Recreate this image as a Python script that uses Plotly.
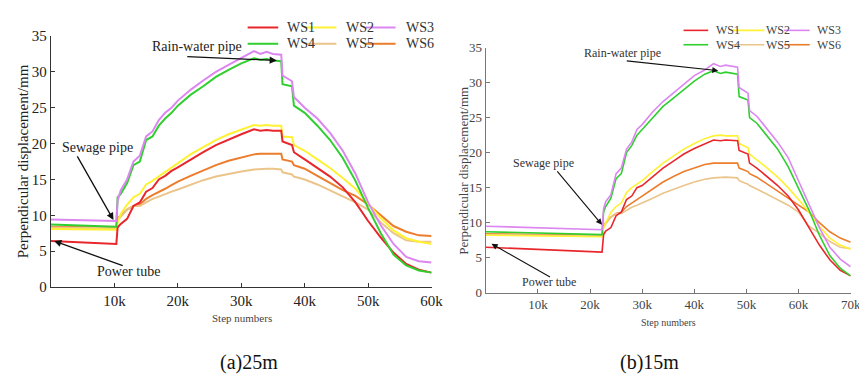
import plotly.graph_objects as go

W, H = 867, 376

# ---------------- data: (a) 25m ----------------
steps_a = [0, 10300, 10500, 11000, 12000, 13000, 14000, 15000, 16000, 17000, 18000, 19000, 20000,
           22000, 24000, 26000, 28000, 30000, 32000, 33000, 34000, 35000, 36300, 36500, 38000, 38300,
           40000, 42000, 44000, 46000, 48000, 50000, 52000, 54000, 56000, 58000, 60000]
a_ws1 = [6.4, 6.0, 8.3, 8.8, 9.5, 11.3, 11.8, 13.3, 13.8, 15.0, 15.5, 16.2, 16.7,
         17.8, 18.8, 19.8, 20.6, 21.3, 22.0, 21.8, 21.9, 21.8, 21.8, 20.3, 19.8, 18.8,
         17.8, 16.6, 15.4, 13.9, 11.8, 9.2, 6.9, 4.8, 3.2, 2.4, 2.0]
a_ws2 = [8.1, 8.0, 9.0, 10.2, 11.5, 12.5, 13.0, 14.3, 14.8, 15.4, 16.0, 16.7, 17.3,
         18.5, 19.5, 20.5, 21.3, 22.0, 22.6, 22.5, 22.6, 22.5, 22.5, 21.0, 20.9, 19.8,
         19.0, 17.8, 16.6, 15.2, 13.7, 11.6, 9.6, 7.9, 6.8, 6.3, 6.0]
a_ws3 = [9.4, 9.2, 12.0, 13.5, 15.0, 17.5, 18.3, 21.0, 21.7, 23.3, 24.3, 25.0, 26.0,
         27.5, 28.8, 30.0, 31.0, 32.0, 32.9, 32.5, 32.8, 32.5, 32.4, 29.5, 28.7, 26.5,
         25.0, 23.5, 21.5, 19.0, 15.8, 11.8, 8.6, 6.0, 4.2, 3.6, 3.4]
a_ws4 = [8.7, 8.4, 12.5, 13.0, 14.5, 17.0, 17.5, 20.5, 21.0, 22.5, 23.5, 24.3, 25.3,
         26.8, 28.0, 29.3, 30.3, 31.2, 31.9, 31.7, 31.8, 31.6, 31.5, 28.3, 28.0, 25.3,
         24.3, 22.5, 20.5, 18.0, 14.8, 11.0, 7.5, 4.5, 3.0, 2.3, 2.0]
a_ws5 = [8.3, 8.2, 9.3, 9.8, 10.8, 11.3, 11.3, 11.8, 12.3, 12.6, 13.0, 13.3, 13.6,
         14.3, 14.9, 15.4, 15.8, 16.1, 16.4, 16.5, 16.5, 16.5, 16.4, 16.0, 15.7, 15.4,
         15.0, 14.3, 13.5, 12.6, 11.8, 10.8, 9.0, 7.5, 6.5, 6.3, 6.3]
a_ws6 = [8.4, 8.3, 9.5, 10.0, 10.8, 11.3, 11.5, 12.3, 12.8, 13.2, 13.7, 14.2, 14.7,
         15.5, 16.3, 17.0, 17.6, 18.1, 18.5, 18.6, 18.6, 18.6, 18.6, 17.8, 17.5, 17.0,
         16.5, 15.5, 14.5, 13.5, 12.7, 11.5, 10.0, 8.5, 7.7, 7.2, 7.1]

# ---------------- data: (b) 15m ----------------
steps_b = [0, 22300, 22600, 23000, 24000, 25000, 26000, 27000, 28000, 29000, 30000, 32000, 34000,
           36000, 38000, 40000, 42000, 43700, 45000, 46000, 48300, 48600, 50300, 50600, 52000,
           54000, 56000, 58000, 60000, 62000, 64000, 66000, 68000, 70000]
b_ws1 = [6.5, 5.8, 8.3, 8.8, 9.3, 11.0, 11.5, 13.3, 13.8, 15.0, 15.3, 16.5, 17.8,
         18.8, 19.8, 20.6, 21.3, 21.8, 21.7, 21.8, 21.7, 20.3, 19.8, 18.5, 17.8,
         16.5, 15.3, 13.8, 11.8, 9.3, 6.8, 4.7, 3.2, 2.4]
b_ws2 = [8.2, 8.0, 9.3, 10.0, 11.5, 12.3, 12.8, 14.3, 15.0, 15.5, 16.0, 17.3, 18.5,
         19.5, 20.5, 21.3, 22.0, 22.4, 22.5, 22.4, 22.4, 21.3, 20.7, 19.8, 19.0,
         17.8, 16.5, 15.0, 13.3, 11.5, 9.5, 7.8, 6.8, 6.2]
b_ws3 = [9.5, 9.0, 12.0, 13.0, 14.0, 17.0, 17.8, 20.5, 21.5, 23.3, 24.0, 25.8, 27.3,
         28.5, 29.8, 31.0, 31.8, 32.7, 32.3, 32.5, 32.2, 29.3, 28.5, 26.0, 25.2,
         23.3, 21.5, 19.3, 16.0, 12.8, 9.3, 6.5, 4.8, 3.7]
b_ws4 = [8.7, 8.3, 11.5, 12.3, 13.5, 16.3, 17.0, 20.0, 21.0, 22.5, 23.3, 25.0, 26.6,
         27.8, 29.0, 30.2, 31.2, 31.7, 31.3, 31.5, 31.2, 28.0, 27.5, 25.0, 24.2,
         22.3, 20.5, 18.0, 15.0, 11.8, 8.2, 5.3, 3.5, 2.4]
b_ws5 = [8.3, 8.1, 9.3, 9.8, 10.8, 11.3, 11.3, 11.8, 12.2, 12.5, 12.8, 13.5, 14.2,
         14.8, 15.3, 15.8, 16.2, 16.4, 16.5, 16.5, 16.4, 16.0, 15.5, 15.3, 14.8,
         14.0, 13.3, 12.5, 11.5, 9.5, 8.5, 7.3, 6.5, 6.3]
b_ws6 = [8.4, 8.2, 9.5, 10.0, 10.8, 11.3, 11.5, 12.3, 12.8, 13.3, 13.8, 14.8, 15.8,
         16.6, 17.3, 17.8, 18.3, 18.5, 18.5, 18.5, 18.5, 17.8, 17.3, 17.0, 16.5,
         15.5, 14.5, 13.5, 12.5, 11.5, 10.0, 8.7, 7.8, 7.2]

series_names = ["WS1", "WS2", "WS3", "WS4", "WS5", "WS6"]
series_colors = ["#e8262c", "#fff133", "#dc86f0", "#2fcf2f", "#ebc48a", "#ec7d2c"]

x_tickvals_a = [10000, 20000, 30000, 40000, 50000, 60000]
x_ticktext_a = ["10k", "20k", "30k", "40k", "50k", "60k"]
x_tickvals_b = [10000, 20000, 30000, 40000, 50000, 60000, 70000]
x_ticktext_b = ["10k", "20k", "30k", "40k", "50k", "60k", "70k"]
y_tickvals = [0, 5, 10, 15, 20, 25, 30, 35]

FONT = "Liberation Serif"

fig = go.Figure()
order = [5, 4, 1, 0, 3, 2]
data_a = [a_ws1, a_ws2, a_ws3, a_ws4, a_ws5, a_ws6]
data_b = [b_ws1, b_ws2, b_ws3, b_ws4, b_ws5, b_ws6]
for i in order:
    fig.add_trace(go.Scatter(x=steps_a, y=data_a[i], mode="lines", name=series_names[i],
                             line=dict(color=series_colors[i], width=2), xaxis="x", yaxis="y",
                             showlegend=False))
for i in order:
    fig.add_trace(go.Scatter(x=steps_b, y=data_b[i], mode="lines", name=series_names[i],
                             line=dict(color=series_colors[i], width=1.6), xaxis="x2", yaxis="y2",
                             showlegend=False))

def px_x(p):
    return p / W

def px_y(p):
    return 1 - p / H

# plot areas in pixels
A = dict(l=43.6, r=429.5, t=21, b=283)
B = dict(l=484.5, r=854.5, t=33, b=289)

axis_common = dict(showgrid=False, zeroline=False, showline=True, mirror=False,
                   ticks="inside", ticklen=4)
fig.update_layout(
    width=W, height=H,
    margin=dict(l=0, r=0, t=0, b=0),
    paper_bgcolor="white", plot_bgcolor="white",
    font=dict(family=FONT, color="#222"),
    xaxis=dict(domain=[px_x(A["l"]), px_x(A["r"])], range=[0, 60000], anchor="y",
               tickvals=x_tickvals_a, ticktext=x_ticktext_a, linecolor="#333", linewidth=1.3,
               tickcolor="#333", tickfont=dict(size=15, color="#222", family=FONT), **axis_common),
    yaxis=dict(domain=[px_y(A["b"]), px_y(A["t"])], range=[0, 35], anchor="x",
               tickvals=y_tickvals, linecolor="#333", linewidth=1.3, tickcolor="#333",
               tickfont=dict(size=15, color="#222", family=FONT), **axis_common),
    xaxis2=dict(domain=[px_x(B["l"]), px_x(B["r"])], range=[0, 70000], anchor="y2",
                tickvals=x_tickvals_b, ticktext=x_ticktext_b, linecolor="#777", linewidth=1.2,
                tickcolor="#777", tickfont=dict(size=13, color="#444", family=FONT), **axis_common),
    yaxis2=dict(domain=[px_y(B["b"]), px_y(B["t"])], range=[0, 35], anchor="x2",
                tickvals=y_tickvals, linecolor="#777", linewidth=1.2, tickcolor="#777",
                tickfont=dict(size=13, color="#444", family=FONT), **axis_common),
)

ann = []
shapes = []

def text_px(t, x, y, size, color="#222", angle=0):
    ann.append(dict(text=t, x=px_x(x), y=px_y(y), xref="paper", yref="paper",
                    showarrow=False, xanchor="center", yanchor="middle", textangle=angle,
                    font=dict(size=size, color=color, family=FONT)))

def arrow(xr, yr, tx, ty, ax, ay, width):
    ann.append(dict(text="", x=tx, y=ty, xref=xr, yref=yr, ax=ax, ay=ay,
                    axref="pixel", ayref="pixel", showarrow=True, arrowhead=2,
                    arrowsize=1.1, arrowwidth=width, arrowcolor="#111"))

# axis titles and captions
text_px("Perpendicular displacement/mm", 15, 152, 15, "#222", -90)
text_px("Step numbers", 237, 315, 11, "#444")
text_px("(a)25m", 244, 362, 20, "#111")
text_px("Perpendicular displacement/mm", 462, 162, 13, "#444", -90)
text_px("Step numbers", 670, 320, 10, "#444")
text_px("(b)15m", 650, 362, 20, "#111")

# callouts (a)
text_px("Rain-water pipe", 192, 32, 14, "#222")
arrow("x", "y", 35600, 31.6, -91, -4, 1.3)
text_px("Sewage pipe", 91, 137, 14, "#222")
arrow("x", "y", 9850, 9.35, -37, -65, 1.3)
text_px("Power tube", 122, 267, 14, "#222")
arrow("x", "y", 500, 6.4, 70, 25, 1.3)

# callouts (b)
text_px("Rain-water pipe", 623, 39, 12, "#333")
arrow("x2", "y2", 44600, 31.7, -93, -10, 1.1)
text_px("Sewage pipe", 543, 154, 12, "#333")
arrow("x2", "y2", 22300, 9.7, -46, -55, 1.1)
text_px("Power tube", 549, 278, 12, "#333")
arrow("x2", "y2", 1100, 6.98, 60, 34, 1.1)

# legends (keys drawn in paper space)
leg_a = [(243, 274, 281, 12), (302, 333, 341, 12), (363, 393, 402, 12),
         (243, 274, 281, 29), (302, 333, 341, 29), (363, 393, 402, 29)]
leg_b = [(685, 710, 716, 15), (734, 767, 767, 15), (787, 813, 818, 15),
         (685, 710, 716, 30), (734, 767, 767, 30), (787, 813, 818, 30)]
for k in range(6):
    x0, x1, xt, y = leg_a[k]
    shapes.append(dict(type="line", xref="paper", yref="paper", x0=px_x(x0), x1=px_x(x1),
                       y0=px_y(y), y1=px_y(y), line=dict(color=series_colors[k], width=2)))
    ann.append(dict(text=series_names[k], x=px_x(xt), y=px_y(y), xref="paper", yref="paper",
                    showarrow=False, xanchor="left", yanchor="middle",
                    font=dict(size=14, color="#333", family=FONT)))
    x0, x1, xt, y = leg_b[k]
    shapes.append(dict(type="line", xref="paper", yref="paper", x0=px_x(x0), x1=px_x(x1),
                       y0=px_y(y), y1=px_y(y), line=dict(color=series_colors[k], width=1.6)))
    ann.append(dict(text=series_names[k], x=px_x(xt), y=px_y(y), xref="paper", yref="paper",
                    showarrow=False, xanchor="left", yanchor="middle",
                    font=dict(size=12, color="#444", family=FONT)))

fig.update_layout(annotations=ann, shapes=shapes)
fig.write_html("out.html")
